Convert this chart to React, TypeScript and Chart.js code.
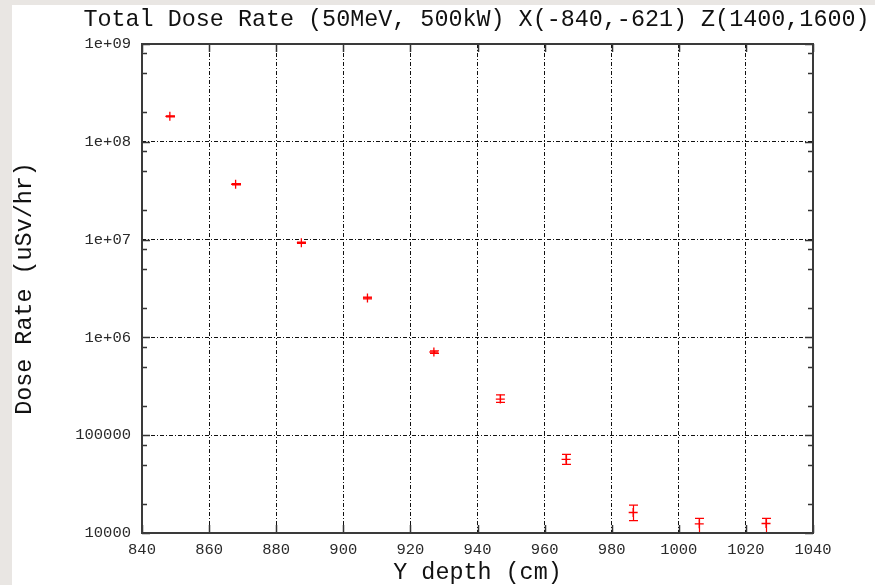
import React, { useEffect, useRef } from "react";
import { Chart, registerables } from "chart.js";

Chart.register(...registerables);

const TITLE = "Total Dose Rate (50MeV, 500kW) X(-840,-621) Z(1400,1600)";
const X_TITLE = "Y depth (cm)";
const Y_TITLE = "Dose Rate (uSv/hr)";

const X_DEPTH = [848.3, 867.9, 887.5, 907.2, 927.0, 946.8, 966.4, 986.4, 1006.1, 1026.0];
const DOSE = [1.82e8, 3.68e7, 9.3e6, 2.53e6, 7.09e5, 2.34e5, 5.67e4, 1.62e4, 1.24e4, 1.25e4];
const DOSE_LOW = [1.8e8, 3.63e7, 9.15e6, 2.48e6, 6.88e5, 2.17e5, 5.04e4, 1.34e4, 1.0e4, 1.0e4];
const DOSE_HIGH = [1.84e8, 3.73e7, 9.45e6, 2.58e6, 7.3e5, 2.58e5, 6.38e4, 1.93e4, 1.41e4, 1.41e4];

const X_TICKS = [840, 860, 880, 900, 920, 940, 960, 980, 1000, 1020, 1040];
const Y_TICKS = [1e4, 1e5, 1e6, 1e7, 1e8, 1e9];
const Y_TICK_LABELS = ["10000", "100000", "1e+06", "1e+07", "1e+08", "1e+09"];
const Y_MINOR_FACTORS = [2, 5, 8];

const MONO = '"Liberation Mono", "DejaVu Sans Mono", monospace';

const titlePlugin = {
  id: "centeredTitle",
  afterDraw(chart: any) {
    const { ctx, chartArea: a } = chart;
    ctx.save();
    ctx.fillStyle = "#111";
    ctx.font = `normal 23.4px ${MONO}`;
    ctx.textAlign = "center";
    ctx.textBaseline = "alphabetic";
    ctx.fillText(TITLE, (a.left + a.right) / 2 - 1, 21);
    ctx.restore();
  },
};

const frameAndErrors = {
  id: "frameAndErrors",
  afterDatasetsDraw(chart: any) {
    const { ctx, chartArea: a, scales } = chart;
    const x = scales.x;
    const y = scales.y;
    // error bars
    ctx.save();
    ctx.beginPath();
    ctx.rect(a.left, a.top, a.right - a.left, a.bottom - a.top);
    ctx.clip();
    ctx.strokeStyle = "#ff0000";
    ctx.lineWidth = 1.2;
    X_DEPTH.forEach((xv, i) => {
      const px = Math.round(x.getPixelForValue(xv)) + 0.5;
      const pl = y.getPixelForValue(DOSE_LOW[i]);
      const ph = y.getPixelForValue(DOSE_HIGH[i]);
      ctx.beginPath();
      ctx.moveTo(px, pl);
      ctx.lineTo(px, ph);
      ctx.moveTo(px - 4.5, pl);
      ctx.lineTo(px + 4.5, pl);
      ctx.moveTo(px - 4.5, ph);
      ctx.lineTo(px + 4.5, ph);
      ctx.stroke();
    });
    ctx.restore();

    // frame and inward ticks
    ctx.save();
    ctx.strokeStyle = "#333";
    ctx.lineWidth = 1.5;
    ctx.beginPath();
    X_TICKS.forEach((v) => {
      const px = Math.round(x.getPixelForValue(v)) + 0.5;
      ctx.moveTo(px, a.top);
      ctx.lineTo(px, a.top + 8);
      ctx.moveTo(px, a.bottom);
      ctx.lineTo(px, a.bottom - 8);
    });
    Y_TICKS.forEach((v) => {
      const py = Math.round(y.getPixelForValue(v)) + 0.5;
      ctx.moveTo(a.left, py);
      ctx.lineTo(a.left + 8, py);
      ctx.moveTo(a.right, py);
      ctx.lineTo(a.right - 8, py);
    });
    Y_TICKS.slice(0, -1).forEach((v) => {
      Y_MINOR_FACTORS.forEach((f) => {
        const py = Math.round(y.getPixelForValue(v * f)) + 0.5;
        ctx.moveTo(a.left, py);
        ctx.lineTo(a.left + 5, py);
        ctx.moveTo(a.right, py);
        ctx.lineTo(a.right - 5, py);
      });
    });
    ctx.stroke();
    ctx.lineWidth = 2;
    ctx.strokeStyle = "#3a3a3a";
    ctx.strokeRect(a.left, a.top, a.right - a.left, a.bottom - a.top);
    ctx.restore();
  },
};

export default function App() {
  const canvasRef = useRef<HTMLCanvasElement | null>(null);

  useEffect(() => {
    const canvas = canvasRef.current;
    if (!canvas) return;
    const edgeColor = (ctx: any) => {
      const n = ctx.chart.scales[ctx.scale.id]?.ticks?.length ?? 0;
      return ctx.index === 0 || ctx.index === n - 1 ? "rgba(0,0,0,0)" : "#111";
    };
    const chart = new Chart(canvas, {
      type: "scatter",
      data: {
        datasets: [
          {
            label: "Total Dose Rate",
            data: X_DEPTH.map((xv, i) => ({ x: xv, y: DOSE[i] })),
            pointStyle: "cross",
            pointRadius: 4.5,
            pointBorderWidth: 1.3,
            borderColor: "#ff0000",
            backgroundColor: "#ff0000",
            showLine: false,
          },
        ],
      },
      options: {
        responsive: false,
        animation: false,
        events: [],
        layout: { padding: { left: 0, right: 62, top: 39, bottom: 0 } },
        plugins: {
          legend: { display: false },
          tooltip: { enabled: false },
          title: { display: false, text: TITLE },
        },
        scales: {
          x: {
            type: "linear",
            min: 840,
            max: 1040,
            afterBuildTicks: (scale: any) => {
              scale.ticks = X_TICKS.map((v) => ({ value: v }));
            },
            afterFit: (scale: any) => {
              scale.height = 52;
            },
            ticks: {
              color: "#2a2a2a",
              font: { family: MONO, size: 15.5 },
              padding: 8,
              maxRotation: 0,
              callback: (v: any) => String(v),
            },
            grid: { color: edgeColor, lineWidth: 1, drawTicks: false },
            border: { display: false, dash: [4, 2, 1, 2] },
            title: {
              display: true,
              text: X_TITLE,
              color: "#111",
              font: { family: MONO, size: 23.4, weight: "normal", lineHeight: 1.0 },
              padding: { top: 0, bottom: 0 },
            },
          },
          y: {
            type: "logarithmic",
            min: 1e4,
            max: 1e9,
            afterBuildTicks: (scale: any) => {
              scale.ticks = Y_TICKS.map((v) => ({ value: v }));
            },
            afterFit: (scale: any) => {
              scale.width = 130;
            },
            ticks: {
              color: "#2a2a2a",
              font: { family: MONO, size: 15.5 },
              padding: 11,
              callback: (_v: any, i: number) => Y_TICK_LABELS[i],
            },
            grid: { color: edgeColor, lineWidth: 1, drawTicks: false },
            border: { display: false, dash: [4, 2, 1, 2] },
            title: {
              display: true,
              text: Y_TITLE,
              color: "#111",
              font: { family: MONO, size: 23.4, weight: "normal", lineHeight: 1.0 },
              padding: { top: 1.5, bottom: 0 },
            },
          },
        },
      },
      plugins: [frameAndErrors, titlePlugin],
    } as any);
    return () => chart.destroy();
  }, []);

  return (
    <div style={{ position: "fixed", inset: 0, background: "#e9e6e3", overflow: "hidden" }}>
      <div
        style={{
          position: "absolute",
          left: 12,
          top: 5,
          width: 863,
          height: 580,
          background: "#ffffff",
        }}
      >
        <canvas ref={canvasRef} width={863} height={580} style={{ display: "block" }} />
      </div>
    </div>
  );
}
